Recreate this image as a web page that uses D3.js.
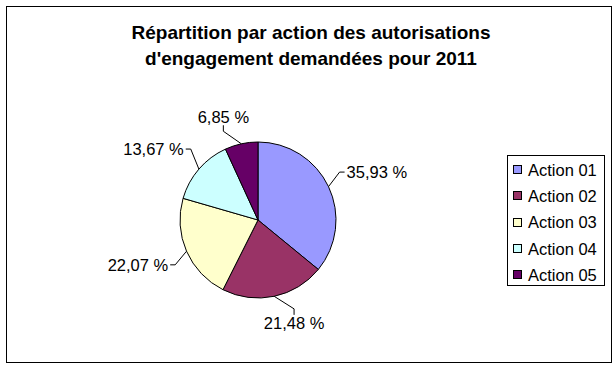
<!DOCTYPE html>
<html>
<head>
<meta charset="utf-8">
<script src="https://cdn.jsdelivr.net/npm/d3@7"></script>
<style>
  body { margin: 0; background: #fff; }
  text { font-family: Arial, "Liberation Sans", sans-serif; }
</style>
</head>
<body>
<div id="canvas"></div>
<script>
var titleLines = ["Répartition par action des autorisations", "d'engagement demandées pour 2011"];
var categories = ["Action 01", "Action 02", "Action 03", "Action 04", "Action 05"];
var values = [35.93, 21.48, 22.07, 13.67, 6.85];
var colors = ["#9999ff", "#993366", "#ffffcc", "#ccffff", "#660066"];

var width = 616, height = 368;
var cx = 258, cy = 220, radius = 78;

var svg = d3.select("#canvas").append("svg")
    .attr("width", width)
    .attr("height", height);

// chart frame
svg.append("rect")
    .attr("x", 6.5).attr("y", 6.5)
    .attr("width", 605).attr("height", 356)
    .attr("fill", "#fff")
    .attr("stroke", "#000");

// title
svg.selectAll(".title")
    .data(titleLines).enter()
    .append("text")
    .attr("class", "title")
    .attr("x", 311)
    .attr("y", function (d, i) { return 39 + i * 26; })
    .attr("text-anchor", "middle")
    .attr("font-size", "19px")
    .attr("font-weight", "bold")
    .text(function (d) { return d; });

var data = categories.map(function (c, i) {
    return { name: c, value: values[i], color: colors[i] };
});

var pie = d3.pie().sort(null).value(function (d) { return d.value; });
var arc = d3.arc().innerRadius(0).outerRadius(radius);
var arcs = pie(data);

var g = svg.append("g")
    .attr("transform", "translate(" + cx + "," + cy + ")");

g.selectAll("path")
    .data(arcs).enter()
    .append("path")
    .attr("d", arc)
    .attr("fill", function (d) { return d.data.color; })
    .attr("stroke", "#000")
    .attr("stroke-width", 1);

// labels with leader lines (excel style)
var fmt = function (v) { return d3.format(".2f")(v).replace(".", ",") + " %"; };
var clamp = function (v) { return Math.max(-1, Math.min(1, v)); };
var labelR = radius + 20;

arcs.forEach(function (d) {
    var a = (d.startAngle + d.endAngle) / 2;
    var ux = Math.sin(a), uy = -Math.cos(a);

    var t = g.append("text")
        .attr("font-size", "16.5px")
        .attr("fill", "#000")
        .attr("text-anchor", "middle")
        .attr("dy", "0.35em")
        .text(fmt(d.data.value));
    var w = t.node().getComputedTextLength(), h = 14;

    var bx = labelR * ux + clamp(ux * 2.5) * w / 2;
    var by = labelR * uy + clamp(uy * 2) * h / 2;
    t.attr("x", bx).attr("y", by);

    var p0 = [radius * ux, radius * uy], p1, p2;
    if (Math.abs(ux) > Math.abs(uy)) {
        var s = ux > 0 ? 1 : -1;
        p2 = [bx - s * (w / 2 + 2), by];
        p1 = [p2[0] - s * 5, by];
    } else {
        var sy = uy > 0 ? 1 : -1;
        p2 = [bx, by - sy * (h / 2 + 1)];
        p1 = [bx, p2[1] - sy * 6];
    }
    g.append("path")
        .attr("d", d3.line()([p0, p1, p2]))
        .attr("fill", "none")
        .attr("stroke", "#000")
        .attr("stroke-width", 1);
});

// legend
var legend = svg.append("g");
legend.append("rect")
    .attr("x", 507.5).attr("y", 155.5)
    .attr("width", 97).attr("height", 130)
    .attr("fill", "#fff")
    .attr("stroke", "#000");

var ly = d3.scalePoint().domain(categories).range([170, 275]);

legend.selectAll(".sw")
    .data(data).enter()
    .append("rect")
    .attr("class", "sw")
    .attr("x", 513.5)
    .attr("y", function (d) { return Math.round(ly(d.name)) - 4.5; })
    .attr("width", 8).attr("height", 8)
    .attr("fill", function (d) { return d.color; })
    .attr("stroke", "#000");

legend.selectAll(".lt")
    .data(data).enter()
    .append("text")
    .attr("class", "lt")
    .attr("x", 528)
    .attr("y", function (d) { return ly(d.name); })
    .attr("dy", "0.35em")
    .attr("font-size", "16.5px")
    .text(function (d) { return d.name; });
</script>
</body>
</html>
